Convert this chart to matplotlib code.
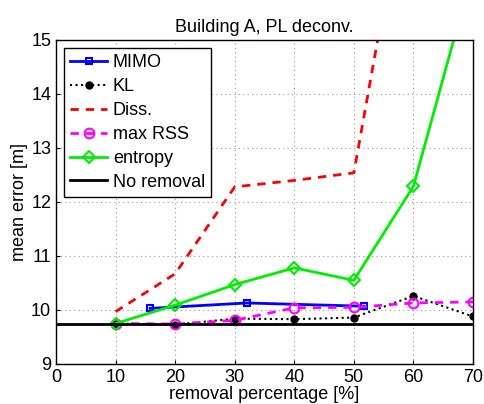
import numpy as np
import matplotlib
matplotlib.use('Agg')
from matplotlib import pyplot as plt

plt.rcParams['font.family'] = ['Liberation Sans', 'DejaVu Sans']

#==============================================================================
# Datos
#==============================================================================
mimo_x = [15.8, 32.0, 51.7]
mimo_y = [10.03, 10.13, 10.07]

pct = [10, 20, 30, 40, 50, 60, 70]
kl_y = [9.75, 9.73, 9.84, 9.83, 9.86, 10.26, 9.88]
rss_y = [9.75, 9.74, 9.81, 10.04, 10.05, 10.13, 10.15]
entropy_y = [9.75, 10.09, 10.47, 10.78, 10.55, 12.29, 16.3]

diss_x = [10, 20, 30, 40, 50, 60]
diss_y = [9.97, 10.67, 12.28, 12.40, 12.54, 18.7]

no_removal = 9.75

#==============================================================================
# Grafico
#==============================================================================
fig = plt.figure(figsize=(4.85, 4.04), dpi=100)
ax = fig.add_axes([56/485, 40/404, 417/485, 324/404])

ax.plot(mimo_x, mimo_y, '-s', color='#0000ff', lw=2, ms=5, mfc='none', mew=1.5, label='MIMO')
ax.plot(pct, kl_y, ':o', color='k', lw=1.5, ms=5, label='KL')
ax.plot(diss_x, diss_y, '--', color='#ff0000', lw=2, dashes=(3, 2.5), label='Diss.')
ax.plot(pct, rss_y, '--o', color='#ff00ff', lw=2, dashes=(3, 2.5), ms=7, mfc='none', mew=1.5, label='max RSS')
ax.plot(pct, entropy_y, '-D', color='#00ee00', lw=2, ms=6, mfc='none', mew=1.5, label='entropy')
ax.axhline(no_removal, color='k', lw=2, label='No removal')

ax.set_xlim(0, 70)
ax.set_ylim(9, 15)
ax.set_xticks(range(0, 71, 10))
ax.set_yticks(range(9, 16))
ax.tick_params(direction='in', labelsize=13, length=3, top=False, right=False)
ax.grid(True, ls=(0, (1, 3)), color='#999999', lw=0.8)
ax.set_xlabel('removal percentage [%]', fontsize=13, labelpad=0)
ax.set_ylabel('mean error [m]', fontsize=13, labelpad=2)
ax.set_title('Building A, PL deconv.', fontsize=13, pad=6)
for s in ax.spines.values():
    s.set_linewidth(1)

leg = ax.legend(loc='upper left', fontsize=13, fancybox=False, edgecolor='k',
                framealpha=1, handlelength=2.0, borderaxespad=0.45, labelspacing=0.38,
                handletextpad=0.35, borderpad=0.35)
leg.get_frame().set_linewidth(1)

plt.savefig('out.png', dpi=100)
plt.close()
